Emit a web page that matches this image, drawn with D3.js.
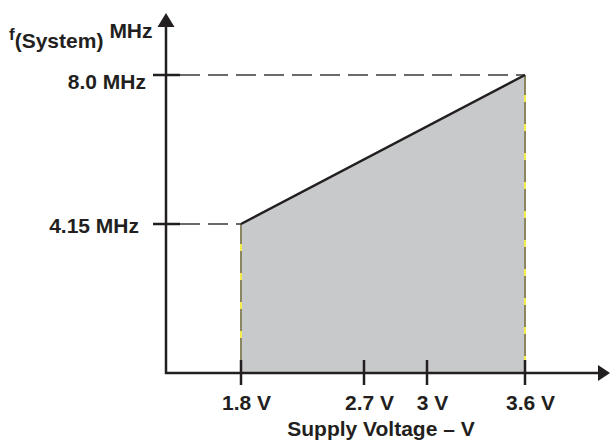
<!DOCTYPE html>
<html>
<head>
<meta charset="utf-8">
<script src="https://cdn.jsdelivr.net/npm/d3@7/dist/d3.min.js"></script>
<style>
  html, body { margin: 0; padding: 0; background: #fff; }
  svg { display: block; }
  text { font-family: "Liberation Sans", Arial, Helvetica, sans-serif; font-weight: bold; fill: #231f20; }
</style>
</head>
<body>
<div id="chart"></div>
<script>
// ---- data ----
const supplyVoltage = [1.8, 3.6];          // V
const systemFreq = [4.15, 8.0];            // MHz
const xTickValues = [1.8, 2.7, 3, 3.6];
const xTickLabels = ["1.8 V", "2.7 V", "3 V", "3.6 V"];
const yTickValues = [4.15, 8.0];
const yTickLabels = ["4.15 MHz", "8.0 MHz"];
const xTitle = "Supply Voltage \u2013 V";
const yTitleMain = "f";
const yTitleSub = "(System)";
const yTitleUnit = "MHz";

// ---- layout ----
const W = 610, H = 441;
const axisX = 166, axisY = 373;
const ink = "#231f20";

const svg = d3.select("#chart").append("svg").attr("width", W).attr("height", H);

// schematic (non-uniform) voltage axis
const x = d3.scaleLinear().domain(xTickValues).range([241, 364, 427, 525]);
const y = d3.scaleLinear().domain(yTickValues).range([224, 75]);

const pts = supplyVoltage.map((v, i) => ({ v, f: systemFreq[i] }));

// shaded operating area
svg.append("path")
  .datum(pts)
  .attr("fill", "#c8c9cb")
  .attr("d", d3.area().x(d => x(d.v)).y0(axisY).y1(d => y(d.f)));

// area side edges (olive with yellow dashes)
pts.forEach(d => {
  svg.append("line")
    .attr("x1", x(d.v)).attr("x2", x(d.v))
    .attr("y1", y(d.f)).attr("y2", axisY)
    .attr("stroke", "#8a8760").attr("stroke-width", 2);
  svg.append("line")
    .attr("x1", x(d.v)).attr("x2", x(d.v))
    .attr("y1", y(d.f)).attr("y2", axisY)
    .attr("stroke", "#f4ec4c").attr("stroke-width", 2)
    .attr("stroke-dasharray", "7 22").attr("stroke-dashoffset", -20);
});

// dashed reference lines
pts.forEach(d => {
  svg.append("line")
    .attr("x1", axisX + 14).attr("x2", x(d.v))
    .attr("y1", y(d.f)).attr("y2", y(d.f))
    .attr("stroke", "#3a3a3a").attr("stroke-width", 1.3)
    .attr("stroke-dasharray", "20 8");
});

// boundary line
svg.append("path")
  .datum(pts)
  .attr("fill", "none")
  .attr("stroke", ink).attr("stroke-width", 2.5)
  .attr("d", d3.line().x(d => x(d.v)).y(d => y(d.f)));

// axes lines
svg.append("line").attr("x1", axisX).attr("x2", axisX).attr("y1", axisY + 1).attr("y2", 24)
  .attr("stroke", ink).attr("stroke-width", 2.5);
svg.append("line").attr("x1", axisX - 1).attr("x2", 600).attr("y1", axisY).attr("y2", axisY)
  .attr("stroke", ink).attr("stroke-width", 2.5);
// arrowheads
svg.append("path").attr("fill", ink)
  .attr("d", `M${axisX},13 L${axisX + 8.5},27 L${axisX - 8.5},27 Z`);
svg.append("path").attr("fill", ink)
  .attr("d", `M610,${axisY} L598,${axisY - 8} L598,${axisY + 8} Z`);

// x ticks
const xAxis = d3.axisBottom(x).tickValues(xTickValues).tickSize(0).tickFormat((d, i) => xTickLabels[i]);
const gx = svg.append("g").attr("transform", `translate(0,${axisY})`).call(xAxis);
gx.select(".domain").remove();
gx.selectAll(".tick text")
  .attr("y", 37).attr("dy", 0).attr("dx", 5)
  .attr("font-size", 21).attr("font-family", null).attr("fill", ink);
xTickValues.forEach(v => {
  svg.append("line").attr("x1", x(v)).attr("x2", x(v)).attr("y1", axisY - 13).attr("y2", axisY + 12)
    .attr("stroke", ink).attr("stroke-width", 2.5);
});

// y ticks
const yAxis = d3.axisLeft(y).tickValues(yTickValues).tickSize(0).tickFormat((d, i) => yTickLabels[i]);
const gy = svg.append("g").attr("transform", `translate(${axisX},0)`).call(yAxis);
gy.select(".domain").remove();
gy.selectAll(".tick text")
  .attr("x", d => d === 8.0 ? -20 : -27)
  .attr("dy", d => d === 8.0 ? 13 : 8)
  .attr("font-size", 21).attr("font-family", null).attr("fill", ink)
  .attr("text-anchor", "end");
yTickValues.forEach(v => {
  svg.append("line").attr("x1", axisX - 13).attr("x2", axisX + 14).attr("y1", y(v)).attr("y2", y(v))
    .attr("stroke", ink).attr("stroke-width", 2.5);
});

// x title
svg.append("text").attr("x", 381).attr("y", 436).attr("text-anchor", "middle")
  .attr("font-size", 21).text(xTitle);

// y title
const yt = svg.append("text").attr("x", 9).attr("y", 40);
yt.append("tspan").attr("font-size", 17).text(yTitleMain);
yt.append("tspan").attr("font-size", 21).attr("dy", 8).text(yTitleSub);
yt.append("tspan").attr("font-size", 21).attr("dx", 6).attr("dy", -10).text(yTitleUnit);
</script>
</body>
</html>
